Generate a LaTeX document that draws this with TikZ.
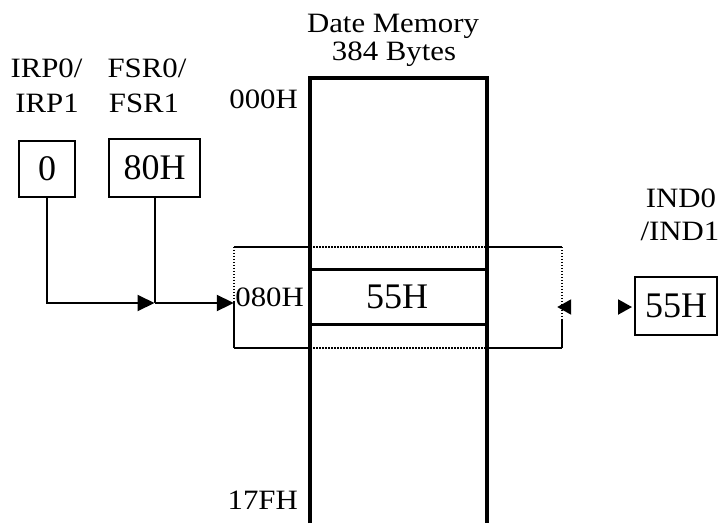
\documentclass[tikz,border=0pt]{standalone}
\usepackage{fontspec}
\setmainfont{Liberation Serif}
\newfontfamily\lblfont{Liberation Serif}[FakeStretch=1.1]
\usetikzlibrary{arrows.meta}
\begin{document}
\begin{tikzpicture}[x=1pt,y=-1pt,
  lbl/.style={font=\lblfont\fontsize{28}{30}\selectfont, inner sep=0pt},
  bigt/.style={font=\fontsize{36}{40}\selectfont, inner sep=0pt},
  regbox/.style={draw, line width=2pt, bigt},
  wire/.style={line width=2pt},
  tipr/.style={-{Triangle[length=17pt,width=16pt]}},
  wall/.style={line width=3.5pt},
  cell/.style={line width=3pt},
  win/.style={line width=1.5pt},
  windot/.style={line width=1.5pt, dash pattern=on 1.5pt off 1.5pt},
]
\useasboundingbox (0,0) rectangle (718,523);

% labels
\node[lbl, anchor=base] (irp0) at (46.5,77) {IRP0/};
\node[lbl, anchor=base] (irp1) at (47,112) {IRP1};
\node[lbl, anchor=base] (fsr0) at (147,77) {FSR0/};
\node[lbl, anchor=base] (fsr1) at (144,112) {FSR1};
\node[lbl, anchor=base] (dm1) at (393,32) {Date Memory};
\node[lbl, anchor=base] (dm2) at (394,60) {384 Bytes};
\node[lbl, anchor=base east] (a000) at (298,108) {000H};
\node[lbl, anchor=base east] (a080) at (304,306) {080H};
\node[lbl, anchor=base east] (a17f) at (298,509) {17FH};
\node[lbl, anchor=base] (ind0) at (681,207) {IND0};
\node[lbl, anchor=base] (ind1) at (680,240) {/IND1};

% registers
\node[regbox, minimum width=56pt, minimum height=56pt] (b0) at (47,169) {0};
\node[regbox, minimum width=91pt, minimum height=58pt] (b1) at (154.5,168) {80H};
\node[regbox, minimum width=82pt, minimum height=58pt] (rb) at (676,306) {55H};

% memory
\coordinate (mtl) at (310,78);
\coordinate (mtr) at (487,78);
\coordinate (mbl) at (310,523);
\coordinate (mbr) at (487,523);
\coordinate (c1) at (0,269);
\coordinate (c2) at (0,324);
\draw[cell] (mtl |- c1) -- (mtr |- c1);
\draw[cell] (mtl |- c2) -- (mtr |- c2);
\draw[wall] (mbl) -- (mtl) -- (mtr) -- (mbr);
\node[bigt] (m55) at (397,297) {55H};

% window
\node[minimum width=328pt, minimum height=101pt, inner sep=0pt] (win) at (398,297.5) {};
\draw[win] (win.north west) -- (mtl |- win.north);
\draw[windot] (mtl |- win.north) -- (mtr |- win.north);
\draw[win] (mtr |- win.north) -- (win.north east);
\draw[win] (win.south west) -- (mtl |- win.south);
\draw[windot] (mtl |- win.south) -- (mtr |- win.south);
\draw[win] (mtr |- win.south) -- (win.south east);
\draw[windot] (win.north west) -- ([yshift=-55pt]win.north west);
\draw[win] ([yshift=-55pt]win.north west) -- (win.south west);
\draw[windot] (win.north east) -- ([yshift=-73pt]win.north east);
\draw[win] ([yshift=-73pt]win.north east) -- (win.south east);

% connectors
\coordinate (lvl) at (0,303);
\coordinate (j) at (b1.south |- lvl);
\draw[wire, tipr] (b0.south) |- (j);
\draw[wire] (b1.south) -- (j);
\draw[wire, tipr] (j) -- (win.west |- lvl);

\coordinate (lvr) at (0,307);
\draw[draw=white, line width=2pt,
  {Triangle[length=14pt,width=15pt,color=black,fill=black]}-{Triangle[length=14pt,width=15pt,color=black,fill=black]}]
  ([xshift=-5pt]win.east |- lvr) -- ([xshift=-2pt]rb.west |- lvr);
\end{tikzpicture}
\end{document}
